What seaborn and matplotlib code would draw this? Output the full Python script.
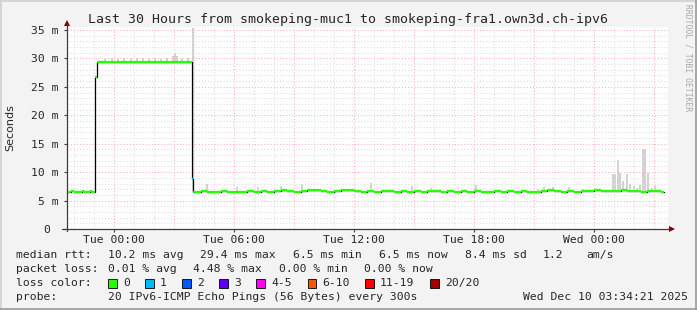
import numpy as np
import matplotlib
matplotlib.use("Agg")
import matplotlib.pyplot as plt
import seaborn as sns
from matplotlib.patches import Rectangle, Polygon
from matplotlib.lines import Line2D

# ---------------- data ----------------
# median rtt as step segments; time in hours relative to "Tue 00:00"
early_t = [-2.35, -2.15, -2.0, -1.6, -1.5, -1.2, -1.1, -0.95, -0.87, 3.9, 3.95]
early_v = [6.5, 6.7, 6.5, 6.7, 6.5, 6.7, 6.5, 26.8, 29.4, 8.8, 6.5]
early_loss = [0, 0, 0, 0, 0, 0, 0, 0, 0, 1, 1]
low_t = [round(4.0 + i / 3, 3) for i in range(71)]
low_v = [6.5, 6.7, 6.5, 6.5, 6.7, 6.5, 6.5, 6.5, 6.7,
         6.5, 6.7, 6.5, 6.7, 6.8, 6.7, 6.5, 6.7, 6.8,
         6.8, 6.7, 6.5, 6.7, 6.8, 6.8, 6.7, 6.5, 6.7,
         6.5, 6.7, 6.7, 6.5, 6.7, 6.5, 6.7, 6.5, 6.7,
         6.7, 6.5, 6.7, 6.5, 6.7, 6.5, 6.7, 6.5, 6.5,
         6.7, 6.5, 6.7, 6.5, 6.7, 6.5, 6.5, 6.7, 6.8,
         6.7, 6.5, 6.7, 6.5, 6.7, 6.7, 6.8, 6.7, 6.7,
         6.7, 6.8, 6.7, 6.7, 6.5, 6.7, 6.7, 6.5]
data_end = 27.5

# smoke (spread of the 20 pings) per sample: time, low, high
smoke_t = [-0.45, -0.1, 0.2, 0.5, 0.85, 1.15, 1.45, 1.75, 2.05, 2.35, 2.65, 2.95, 3.05, 3.15, 3.4, 3.7,
           3.95,
           4.65, 6.15, 7.2, 8.35, 9.4, 10.2, 11.3, 12.85, 14.9, 15.85, 16.3, 18.1, 21.2, 21.5, 21.95,
           22.75, 23.45, 24.2, 24.95, 25.05, 25.2, 25.3, 25.45, 25.65, 25.8, 26.0, 26.15, 26.3,
           26.45, 26.55, 26.7, 26.9, 27.05]
smoke_lo = [29.4] * 16 + [6.5] + [6.6] * 33
smoke_hi = [29.9, 30.0, 29.9, 30.1, 29.9, 30.0, 30.1, 29.9, 30.0, 29.9, 30.0, 30.4, 30.9, 30.4, 29.9, 30.0,
            35.3,
            7.9, 7.4, 7.4, 7.6, 7.9, 7.1, 7.1, 8.1, 7.6, 7.2, 7.0, 7.7, 7.1, 7.4, 7.4,
            7.4, 7.1, 7.0, 9.7, 9.7, 12.2, 9.9, 8.5, 9.7, 8.0, 7.6, 7.2, 7.8,
            14.1, 14.1, 9.9, 7.2, 7.6]

x_ticks = [0, 6, 12, 18, 24]
x_labels = ["Tue 00:00", "Tue 06:00", "Tue 12:00", "Tue 18:00", "Wed 00:00"]
y_ticks = [0, 5, 10, 15, 20, 25, 30, 35]
y_labels = ["0 ", "5 m", "10 m", "15 m", "20 m", "25 m", "30 m", "35 m"]

loss_labels = ["0", "1", "2", "3", "4-5", "6-10", "11-19", "20/20"]
loss_colors = ["#26ff00", "#00b8ff", "#0059ff", "#5e00ff", "#ff00f6", "#ff5500", "#ff0000", "#a10000"]

rtt_stats = [("10.2", "ms avg"), ("29.4", "ms max"), ("6.5", "ms min"), ("6.5", "ms now"), ("8.4", "ms sd")]
rtt_ams = "1.2"
loss_stats = [("0.01", "% avg"), ("4.48", "% max"), ("0.00", "% min"), ("0.00", "% now")]

title = "Last 30 Hours from smokeping-muc1 to smokeping-fra1.own3d.ch-ipv6"
probe_text = "20 IPv6-ICMP Echo Pings (56 Bytes) every 300s"
date_text = "Wed Dec 10 03:34:21 2025"

# ---------------- figure ----------------
sns.set_style("white")
MONO = "DejaVu Sans Mono"
plt.rcParams["font.family"] = ["DejaVu Sans"]

W, H = 697, 310
fig = plt.figure(figsize=(W / 100, H / 100), dpi=100)
fig.patch.set_facecolor("#f3f3f3")

def fx(x):
    return x / W

def fy(y):
    return 1 - y / H

AX_L, AX_R, AX_T, AX_B = 67, 668, 27, 229
PX_PER_UNIT = 5.686
ax = fig.add_axes([fx(AX_L), fy(AX_B), (AX_R - AX_L) / W, (AX_B - AX_T) / H])
ax.set_facecolor("white")
ax.set_xlim(-2.35, 27.7)
ax.set_ylim(0, (AX_B - AX_T) / PX_PER_UNIT)
for s in ax.spines.values():
    s.set_visible(False)

# smoke
lo = np.array(smoke_lo)
hi = np.array(smoke_hi)
ax.bar(smoke_t, hi - lo, bottom=lo, width=0.1, color="#d2d2d2", linewidth=0, zorder=1)

# grid
minor_c, major_c = "#dddddd", "#ffb0b0"
dots = (0, (1.0, 2.0))
for h in range(-2, 28):
    ax.axvline(h, color=major_c if h % 3 == 0 else minor_c, ls=dots, lw=0.75, zorder=2)
for v in range(1, 36):
    ax.axhline(v, color=major_c if v % 5 == 0 else minor_c, ls=dots, lw=0.75, zorder=2)

# median line
med_t = early_t + low_t
med_v = early_v + low_v
med_loss = early_loss + [0] * len(low_v)
edges = med_t + [data_end]
sns.lineplot(x=edges, y=med_v + [med_v[-1]], drawstyle="steps-post", color="black",
             lw=0.9, ax=ax, estimator=None, sort=False, zorder=3)
ax.hlines(med_v, edges[:-1], edges[1:], colors=[loss_colors[l] for l in med_loss],
          lw=1.6, zorder=4)

# ticks
axis_c = "#3c3c3c"
ax.set_xticks(x_ticks)
ax.set_xticklabels(x_labels, family=MONO, fontsize=8.2)
ax.set_yticks(y_ticks)
ax.set_yticklabels(y_labels, family=MONO, fontsize=8.2)
ax.tick_params(axis="x", length=2, width=0.8, color=axis_c, pad=2.5, bottom=True)
ax.tick_params(axis="y", length=2, width=0.8, color=axis_c, pad=4.3, left=True)
ax.set_xlabel("")
ax.set_ylabel("")

# axis lines and arrows
fig.add_artist(Line2D([fx(AX_L), fx(AX_L)], [fy(231), fy(24)], transform=fig.transFigure,
                      color=axis_c, lw=0.9))
fig.add_artist(Line2D([fx(62), fx(670)], [fy(AX_B), fy(AX_B)], transform=fig.transFigure,
                      color=axis_c, lw=0.9))
arrow_c = "#7f0000"
fig.add_artist(Polygon([[fx(64), fy(26)], [fx(70), fy(26)], [fx(67), fy(20)]], closed=True,
                       transform=fig.transFigure, color=arrow_c, lw=0))
fig.add_artist(Polygon([[fx(669), fy(226)], [fx(669), fy(232)], [fx(675), fy(229)]], closed=True,
                       transform=fig.transFigure, color=arrow_c, lw=0))

# texts
fig.text(fx(348), fy(19.5), title, ha="center", va="center", family=MONO, fontsize=9.5)
fig.text(fx(10), fy(128), "Seconds", rotation=90, ha="center", va="center", fontsize=8)
fig.text(fx(688), fy(58), "RRDTOOL / TOBI OETIKER", rotation=270, ha="center", va="center",
         family=MONO, fontsize=5.8, color="#a8a8a8")

FS = 8.2
row_y = [255, 268.5, 283, 296.5]
def t(x, y, s, **kw):
    fig.text(fx(x), fy(y), s, ha="left", va="center", family=MONO, fontsize=FS, **kw)

t(16, row_y[0], "median rtt:")
for (val, unit), x in zip(rtt_stats, [107.6, 200, 293, 379, 465]):
    t(x, row_y[0], f"{val} {unit}")
t(543, row_y[0], rtt_ams)
t(586, row_y[0], "am/s")

t(16, row_y[1], "packet loss:")
for (val, unit), x in zip(loss_stats, [107.6, 193, 279, 364]):
    t(x, row_y[1], f"{val} {unit}")

t(16, row_y[2], "loss color:")
box_x = [108, 145, 182, 219, 256, 307.5, 365, 430]
for lab, col, x in zip(loss_labels, loss_colors, box_x):
    fig.add_artist(Rectangle((fx(x), fy(row_y[2] + 4.5)), 8.5 / W, 8.5 / H, transform=fig.transFigure,
                             facecolor=col, edgecolor="#000000", lw=0.6))
    t(x + 15, row_y[2], lab)

t(16, row_y[3], "probe:")
t(107.6, row_y[3], probe_text)
fig.text(fx(688), fy(row_y[3]), date_text, ha="right", va="center", family=MONO, fontsize=FS)

# frame
fig.add_artist(Line2D([0, 1], [fy(0.75), fy(0.75)], transform=fig.transFigure, color="#d0d0d0", lw=1.2))
fig.add_artist(Line2D([fx(0.75), fx(0.75)], [0, 1], transform=fig.transFigure, color="#d0d0d0", lw=1.2))
fig.add_artist(Line2D([0, 1], [fy(H - 0.75), fy(H - 0.75)], transform=fig.transFigure, color="#9a9a9a", lw=1.2))
fig.add_artist(Line2D([fx(W - 0.75), fx(W - 0.75)], [0, 1], transform=fig.transFigure, color="#9a9a9a", lw=1.2))

fig.savefig("out.png", dpi=100, facecolor=fig.get_facecolor())
